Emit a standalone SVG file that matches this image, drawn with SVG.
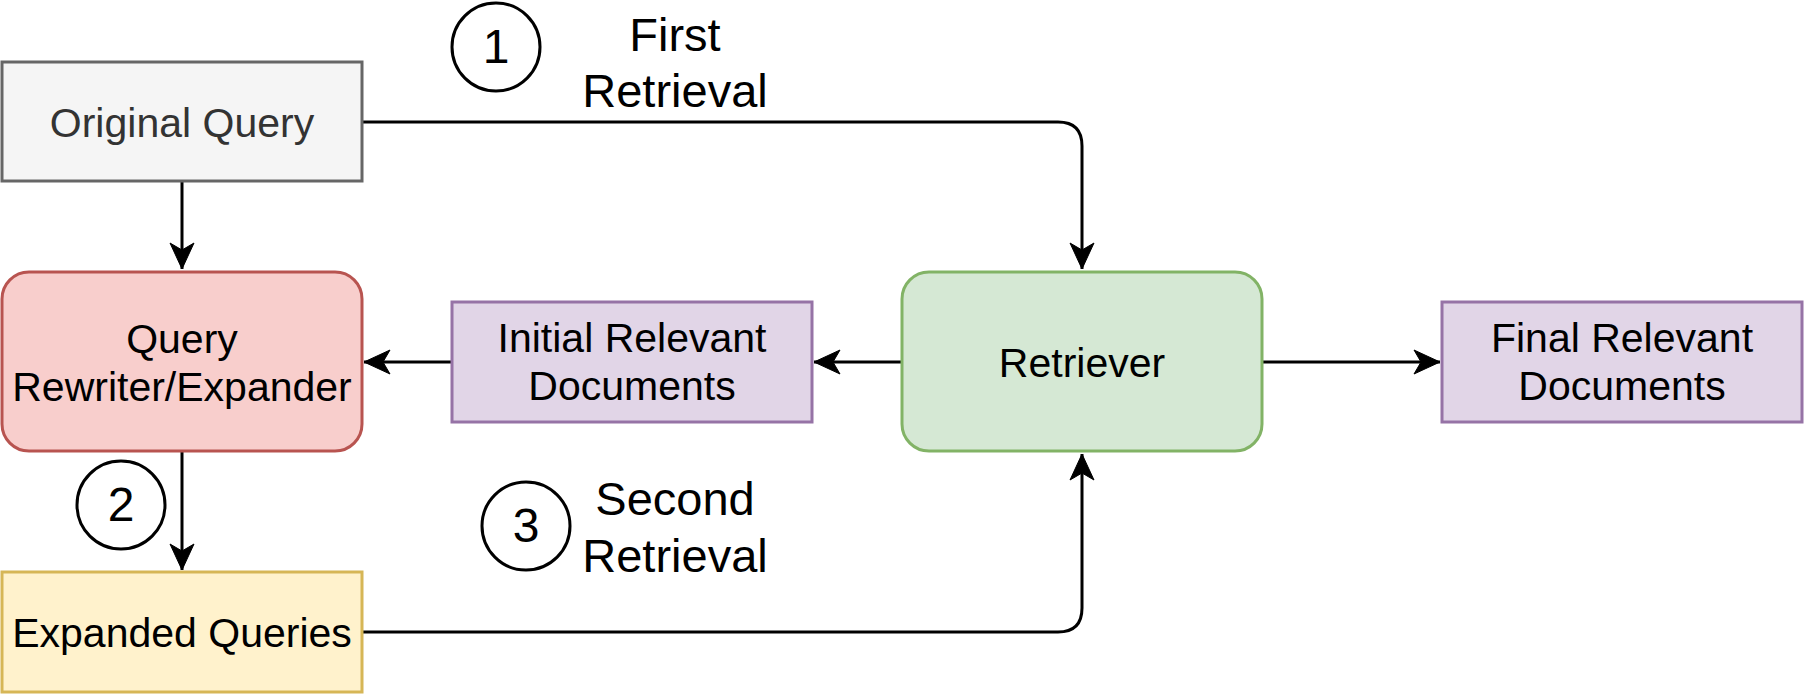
<svg xmlns="http://www.w3.org/2000/svg" width="1806" height="696" viewBox="0 0 1806 696">
  <style>
    .t { font-family: "Liberation Sans", Arial, sans-serif; font-size: 41px; text-anchor: middle; fill: #000000; }
    .lbl { font-family: "Liberation Sans", Arial, sans-serif; font-size: 47px; text-anchor: middle; fill: #000000; }
    .num { font-family: "Liberation Sans", Arial, sans-serif; font-size: 48px; text-anchor: middle; fill: #000000; }
    .edge { fill: none; stroke: #000000; stroke-width: 3; }
    .node { stroke-width: 3; }
    .circ { fill: #ffffff; stroke: #000000; stroke-width: 3; }
  </style>
  <defs>
    <marker id="arrow" markerUnits="userSpaceOnUse" markerWidth="30" markerHeight="30" viewBox="-28 -15 30 30" refX="0" refY="0" orient="auto">
      <path d="M0,0 L-26,-12 L-19,0 L-26,12 Z" fill="#000000" stroke="#000000" stroke-width="1"/>
    </marker>
  </defs>

  <rect width="1806" height="696" fill="#ffffff"/>

  <g id="connectors">
    <path class="edge" d="M362,122 L1058,122 Q1082,122 1082,146 L1082,269" marker-end="url(#arrow)"/>
    <path class="edge" d="M182,182 L182,269" marker-end="url(#arrow)"/>
    <path class="edge" d="M452,362 L364,362" marker-end="url(#arrow)"/>
    <path class="edge" d="M902,362 L814,362" marker-end="url(#arrow)"/>
    <path class="edge" d="M1262,362 L1440,362" marker-end="url(#arrow)"/>
    <path class="edge" d="M182,452 L182,570" marker-end="url(#arrow)"/>
    <path class="edge" d="M362,632 L1058,632 Q1082,632 1082,608 L1082,454" marker-end="url(#arrow)"/>
  </g>

  <g id="original-query">
    <rect class="node" x="2" y="62" width="360" height="119" fill="#f5f5f5" stroke="#666666"/>
    <text class="t" x="182" y="137" style="fill:#333333">Original Query</text>
  </g>

  <g id="query-rewriter">
    <rect class="node" x="2" y="272" width="360" height="179" rx="27" ry="27" fill="#f8cecc" stroke="#b85450"/>
    <text class="t" x="182" y="353">Query</text>
    <text class="t" x="182" y="401">Rewriter/Expander</text>
  </g>

  <g id="initial-docs">
    <rect class="node" x="452" y="302" width="360" height="120" fill="#e1d5e7" stroke="#9673a6"/>
    <text class="t" x="632" y="352">Initial Relevant</text>
    <text class="t" x="632" y="400">Documents</text>
  </g>

  <g id="retriever">
    <rect class="node" x="902" y="272" width="360" height="179" rx="27" ry="27" fill="#d5e8d4" stroke="#82b366"/>
    <text class="t" x="1082" y="377">Retriever</text>
  </g>

  <g id="final-docs">
    <rect class="node" x="1442" y="302" width="360" height="120" fill="#e1d5e7" stroke="#9673a6"/>
    <text class="t" x="1622" y="352">Final Relevant</text>
    <text class="t" x="1622" y="400">Documents</text>
  </g>

  <g id="expanded-queries">
    <rect class="node" x="2" y="572" width="360" height="120" fill="#fff2cc" stroke="#d6b656"/>
    <text class="t" x="182" y="647">Expanded Queries</text>
  </g>

  <g id="step-1">
    <circle class="circ" cx="496" cy="47" r="44"/>
    <text class="num" x="496" y="63">1</text>
  </g>
  <g id="label-first">
    <text class="lbl" x="675" y="51">First</text>
    <text class="lbl" x="675" y="107">Retrieval</text>
  </g>

  <g id="step-2">
    <circle class="circ" cx="121" cy="505" r="44"/>
    <text class="num" x="121" y="521">2</text>
  </g>

  <g id="step-3">
    <circle class="circ" cx="526" cy="526" r="44"/>
    <text class="num" x="526" y="542">3</text>
  </g>
  <g id="label-second">
    <text class="lbl" x="675" y="515">Second</text>
    <text class="lbl" x="675" y="572">Retrieval</text>
  </g>
</svg>
